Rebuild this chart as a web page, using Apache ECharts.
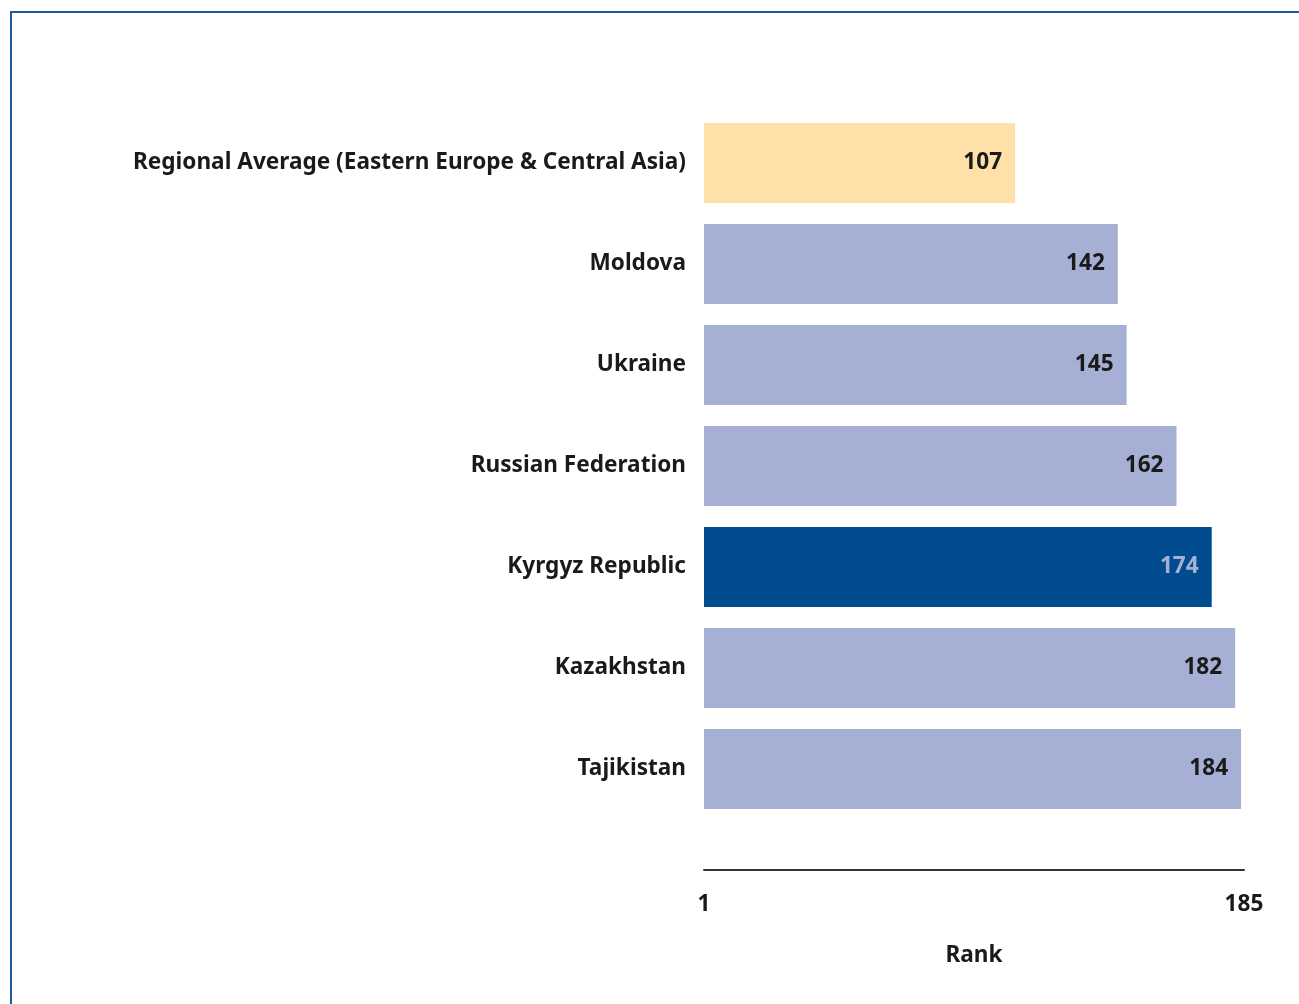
<!DOCTYPE html>
<html>
<head>
<meta charset="utf-8">
<script src="https://cdn.jsdelivr.net/npm/echarts@6/dist/echarts.min.js"></script>
<style>
  html, body { margin: 0; padding: 0; background: #fff; }
  #chart { width: 1299px; height: 1004px; }
</style>
</head>
<body>
<div id="chart"></div>
<script>
// Economy names, top to bottom
const categories = [
  'Regional Average (Eastern Europe & Central Asia)',
  'Moldova',
  'Ukraine',
  'Russian Federation',
  'Kyrgyz Republic',
  'Kazakhstan',
  'Tajikistan'
];
// Rank of each economy
const ranks = [107, 142, 145, 162, 174, 182, 184];
// Bar role: average, focus economy or comparator
const roles = ['average', 'comparator', 'comparator', 'comparator', 'focus', 'comparator', 'comparator'];
// Rank scale end points shown on the axis
const rankTicks = [1, 185];

const fillByRole = { average: '#FEE0A8', comparator: '#A5B0D4', focus: '#004C8F' };
const textByRole = { average: '#1a1a1a', comparator: '#1a1a1a', focus: '#A5B0D4' };
const FONT = 'Noto Sans';
const SIZE = 22.6;

const chart = echarts.init(document.getElementById('chart'));
chart.setOption({
  animation: false,
  backgroundColor: '#fff',
  graphic: [{
    type: 'rect',
    shape: { x: 11, y: 12, width: 1400, height: 1100 },
    style: { fill: 'none', stroke: '#1A5AA3', lineWidth: 2 },
    silent: true
  }],
  grid: { left: 704, right: 55, top: 112.5, bottom: 184.5 },
  xAxis: {
    type: 'value',
    min: rankTicks[0],
    max: rankTicks[1],
    offset: 50.5,
    splitLine: { show: false },
    axisTick: { show: false },
    axisLine: { show: true, lineStyle: { color: '#333', width: 2 } },
    axisLabel: {
      customValues: rankTicks,
      margin: 23,
      color: '#1a1a1a',
      fontFamily: FONT,
      fontWeight: 'bold',
      fontSize: SIZE
    },
    name: 'Rank',
    nameLocation: 'middle',
    nameGap: 74,
    nameTextStyle: { color: '#1a1a1a', fontFamily: FONT, fontWeight: 'bold', fontSize: SIZE }
  },
  yAxis: {
    type: 'category',
    data: categories,
    inverse: true,
    axisLine: { show: false },
    axisTick: { show: false },
    axisLabel: {
      margin: 18,
      color: '#1a1a1a',
      fontFamily: FONT,
      fontWeight: 'bold',
      fontSize: SIZE,
      lineHeight: 28,
      padding: [4, 0, 0, 0]
    }
  },
  series: [{
    type: 'bar',
    barWidth: 80,
    data: ranks.map((v, i) => ({
      value: v,
      itemStyle: { color: fillByRole[roles[i]] },
      label: { color: textByRole[roles[i]] }
    })),
    label: {
      show: true,
      position: 'insideRight',
      distance: 13,
      fontFamily: FONT,
      fontWeight: 'bold',
      fontSize: SIZE
    }
  }]
});
</script>
</body>
</html>
